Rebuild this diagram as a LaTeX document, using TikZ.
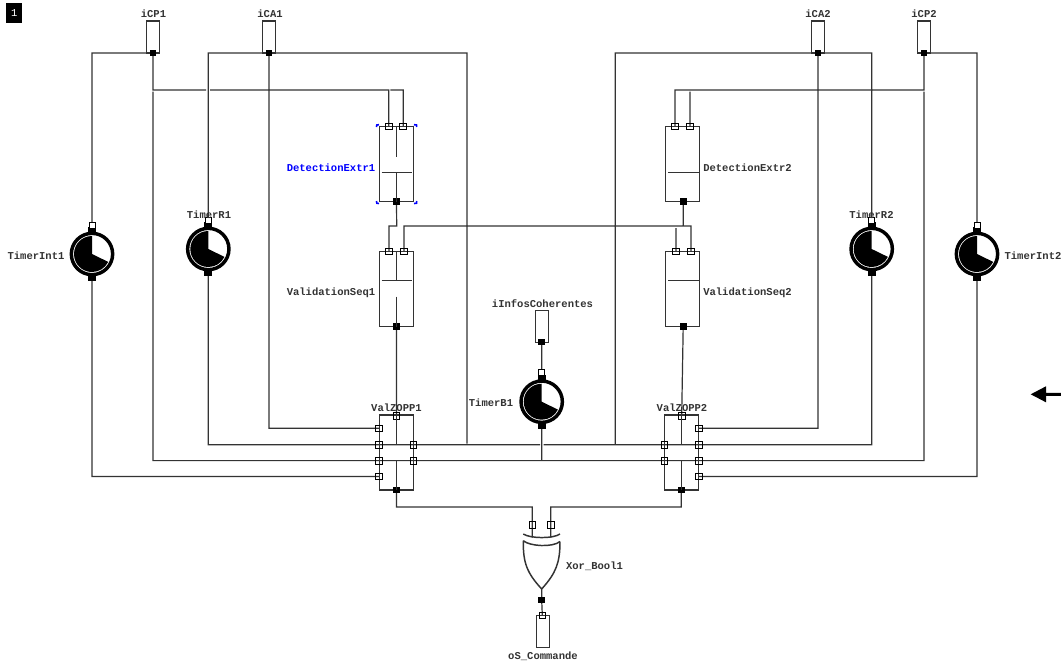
\documentclass[tikz,border=0pt]{standalone}
\usepackage{fontspec}
\setmainfont{Liberation Mono}
\usetikzlibrary{backgrounds}
\definecolor{wire}{gray}{0.2}
\tikzset{
  wireline/.style={draw=wire,line width=0.9pt},
  block/.style={draw=wire,line width=0.9pt,rectangle,minimum width=25.5pt,minimum height=56.25pt,inner sep=0,outer sep=0},
  pinbox/.style={draw=wire,line width=0.9pt,rectangle,minimum width=10pt,minimum height=24pt,inner sep=0,outer sep=0},
  inport/.style={draw=black,line width=0.6pt,rectangle,minimum size=5pt,inner sep=0,outer sep=0},
  inportw/.style={inport,fill=white,minimum size=4.5pt},
  outport/.style={fill=black,rectangle,minimum size=5pt,inner sep=0,outer sep=0},
  nub/.style={fill=black,rectangle,minimum width=6pt,minimum height=4.8pt,inner sep=0,outer sep=0},
  timer/.style={circle,draw=black,line width=2.6pt,minimum size=31pt,inner sep=0,outer sep=0,
    path picture={\fill[black,y=.75pt] (path picture bounding box.center) -- ++(0,18) arc[start angle=90,end angle=334,radius=18] -- cycle;}},
  lbl/.style={font=\fontsize{7.9pt}{8pt}\selectfont\bfseries,inner sep=0,outer sep=0,text=black!80},
  handle/.style={draw=blue,line width=1.2pt},
}
\begin{document}
\begin{tikzpicture}[x=.75pt,y=-.75pt]
\useasboundingbox (0,0) rectangle (1061,661);
% corner mark
\node[fill=black,text=white,minimum width=12pt,minimum height=15pt,inner sep=0,font=\fontsize{7.9pt}{8pt}\selectfont] (mark) at (14.3,13.3) {1};
% pin boxes
\node[pinbox] (icp1) at (152.8,37) {};
\node[pinbox] (ica1) at (269.2,37) {};
\node[pinbox] (ica2) at (818,37) {};
\node[pinbox] (icp2) at (924.2,37) {};
\node[pinbox] (iinf) at (541.8,326.5) {};
\node[pinbox] (osc) at (542.8,631.5) {};
% blocks
\node[block] (d1) at (396.3,164.2) {};
\node[block] (v1) at (396.3,289.2) {};
\node[block] (d2) at (682.8,164.2) {};
\node[block] (v2) at (682.8,289.2) {};
\node[block] (z1) at (396.3,452.5) {};
\node[block] (z2) at (681.7,452.5) {};
% timers
\node[timer] (ti1) at (92,254) {};
\node[timer] (tr1) at (208.3,249) {};
\node[timer] (tb1) at (541.7,401.7) {};
\node[timer] (tr2) at (871.7,249) {};
\node[timer] (ti2) at (977,254) {};
% ports
\node[outport] (pcp1) at (153,53) {};
\node[outport] (pca1) at (269,53) {};
\node[outport] (pca2) at (818,53) {};
\node[outport] (pcp2) at (924,53) {};
\node[outport] (pinf) at (541.7,342) {};
\node[inport] (pd1a) at (388.7,126.3) {};
\node[inport] (pd1b) at (403.2,126.3) {};
\node[outport] (pd1o) at (396.5,201.6) {};
\node[inport] (pv1a) at (389,251.3) {};
\node[inport] (pv1b) at (404,251.3) {};
\node[outport] (pv1o) at (396.5,326.6) {};
\node[inport] (pd2a) at (675,126.3) {};
\node[inport] (pd2b) at (690,126.3) {};
\node[outport] (pd2o) at (683.2,201.6) {};
\node[inport] (pv2a) at (676,251.3) {};
\node[inport] (pv2b) at (691,251.3) {};
\node[outport] (pv2o) at (683.2,326.6) {};
\node[inport] (pz1t) at (396.5,415.7) {};
\node[inport] (pz1l1) at (378.8,428.3) {};
\node[inport] (pz1l2) at (378.8,444.7) {};
\node[inport] (pz1l3) at (378.8,460.6) {};
\node[inport] (pz1l4) at (378.8,476.4) {};
\node[inport] (pz1r2) at (413.5,444.7) {};
\node[inport] (pz1r3) at (413.5,460.6) {};
\node[outport] (pz1o) at (396.5,490) {};
\node[inport] (pz2t) at (681.7,415.7) {};
\node[inport] (pz2l2) at (664.5,444.7) {};
\node[inport] (pz2l3) at (664.5,460.6) {};
\node[inport] (pz2r1) at (699,428.3) {};
\node[inport] (pz2r2) at (699,444.7) {};
\node[inport] (pz2r3) at (699,460.6) {};
\node[inport] (pz2r4) at (699,476.4) {};
\node[outport] (pz2o) at (681.3,490) {};
\node[inport] (pxa) at (532.3,525) {};
\node[inport] (pxb) at (550.7,525) {};
\node[outport] (pxo) at (541.7,600) {};
\node[inport] (posc) at (542.3,615.5) {};
% timer ports
\foreach \t/\x/\y in {ti1/92/254,tr1/208.3/249,tb1/541.7/401.7,tr2/871.7/249,ti2/977/254}{
  \node[nub] (\t n) at (\x,\y-24) {};
  \node[inportw] (\t i) at (\x,\y-29) {};
  \node[nub] (\t o) at (\x,\y+24) {};
}
% wire junction points
\coordinate (a1) at (153,90);
\coordinate (a2) at (206,90);
\coordinate (a3) at (210,90);
\coordinate (a4) at (390.3,90);
\coordinate (a5) at (153,91.5);
\coordinate (b1) at (924,90);
\coordinate (b2) at (690,91.5);
\coordinate (b3) at (924,91.5);
\coordinate (f1) at (467,443.5);
\coordinate (f2) at (615.3,444.2);
\coordinate (g1) at (540,444.7);
\coordinate (g2) at (543.5,444.7);
\coordinate (g3) at (541.7,460.6);
\coordinate (k1) at (396.7,226);
\coordinate (k2) at (404,226);
\coordinate (k3) at (683.2,226);
\coordinate (k4) at (676,228);
\coordinate (m1) at (532.3,507);
\coordinate (m2) at (550.7,507);
\coordinate (m3) at (532.3,537.5);
\coordinate (m4) at (550.7,537.5);
\coordinate (xtip) at (541.7,589);
\begin{scope}[on background layer]
\path[wireline]
  (icp1.south west) -| (ti1i.center)
  (pcp1.center) -- (a1) -- (a2)
  (a3) -| (pd1a.center)
  (a4) -| (pd1b.center)
  (a5) |- (pz1l3.center)
  (pz1l3.center) -- (pz1r3.center) -- (pz2l3.center) -- (pz2r3.center)
  (pz2r3.center) -| (b3)
  (pcp2.center) -- (b1) -| (pd2a.center)
  (b2) -- (pd2b.center)
  (icp2.south east) -| (ti2i.center)
  (ica1.south west) -| (tr1i.center)
  (ica1.south east) -| (f1)
  (pca1.center) |- (pz1l1.center)
  (ica2.south west) -| (f2)
  (ica2.south east) -| (tr2i.center)
  (pca2.center) |- (pz2r1.center)
  (tr1o.center) |- (pz1l2.center)
  (pz1l2.center) -- (pz1r2.center) -- (g1)
  (g2) -- (pz2l2.center) -- (pz2r2.center)
  (pz2r2.center) -| (tr2o.center)
  (ti1o.center) |- (pz1l4.center)
  (ti2o.center) |- (pz2r4.center)
  (pinf.center) -- (tb1i.center)
  (tb1o.center) -- (g3)
  (pd1o.center) -- (k1) -| (pv1a.center)
  (pd2o.center) -- (k3) -- (k2) -- (pv1b.center)
  (k3) -| (pv2b.center)
  (k4) -- (pv2a.center)
  (pv1o.center) -- (pz1t.center)
  (pv2o.center) -- (pz2t.center)
  (pz1o.center) |- (m1) -- (pxa.center) -- (m3)
  (pz2o.center) |- (m2) -- (pxb.center) -- (m4)
  (xtip) -- (pxo.center) -- (posc.center);
\end{scope}
% block inner marks
\path[wireline]
  (396.7,126.7) -- (396.7,156.7)
  (396.7,172.3) -- (396.7,201.7)
  (381.7,172.3) -- (411.7,172.3)
  (396.7,251.7) -- (396.7,280.7)
  (396.7,296.7) -- (396.7,326.7)
  (381.7,280.7) -- (411.7,280.7)
  (668,172.3) -- (700,172.3)
  (668,280.7) -- (700,280.7)
  (396.7,416) -- (396.7,444.7)
  (396.7,460.6) -- (396.7,490)
  (681.3,416) -- (681.3,444.7)
  (681.3,460.6) -- (681.3,490);
% xor gate
\path[wireline,line width=1.1pt]
  (523.3,534) .. controls (530,538.5) and (553,539) .. (560,534)
  (523.3,540.7) .. controls (530,546.5) and (553,547.5) .. (560,541.5)
  (523.3,540.7) .. controls (523,563) and (527,573) .. (541.7,589)
  (560,541.5) .. controls (560,563) and (556,573) .. (541.7,589);
% selection handles
\path[handle]
  (376.5,127) -- (376.8,125) -- (379,124.7)
  (414,124.7) -- (416.5,125) -- (416.7,127)
  (376.5,201) -- (376.8,203.2) -- (379,203.5)
  (414,203.5) -- (416.5,203.2) -- (416.7,201);
% labels
\node[lbl] (lcp1) at (153.5,13.5) {iCP1};
\node[lbl] (lca1) at (270,13.5) {iCA1};
\node[lbl] (lca2) at (818,13.5) {iCA2};
\node[lbl] (lcp2) at (924,13.5) {iCP2};
\node[lbl,text=blue] (ld1) at (331,168) {DetectionExtr1};
\node[lbl] (lv1) at (331,293) {ValidationSeq1};
\node[lbl] (ld2) at (747.5,168) {DetectionExtr2};
\node[lbl] (lv2) at (747.5,293) {ValidationSeq2};
\node[lbl] (lti1) at (36,255.5) {TimerInt1};
\node[lbl] (ltr1) at (209,214.5) {TimerR1};
\node[lbl] (ltr2) at (871.5,214.5) {TimerR2};
\node[lbl] (lti2) at (1033,255.5) {TimerInt2};
\node[lbl] (ltb1) at (491,402.5) {TimerB1};
\node[lbl] (lz1) at (396.5,407.5) {ValZOPP1};
\node[lbl] (lz2) at (682,407.5) {ValZOPP2};
\node[lbl] (linf) at (542.5,304) {iInfosCoherentes};
\node[lbl] (lxor) at (594.5,566) {Xor\_Bool1};
\node[lbl] (losc) at (543,656) {oS\_Commande};
% cursor arrow
\coordinate (ctip) at (1030.7,394.3);
\coordinate (ctail) at (1061,394.3);
\fill[black] (ctip) -- (1046,386.3) -- (1046,392.8) -- (ctail |- 0,392.8) -- (ctail |- 0,395.8) -- (1046,395.8) -- (1046,402.3) -- cycle;
\end{tikzpicture}
\end{document}
